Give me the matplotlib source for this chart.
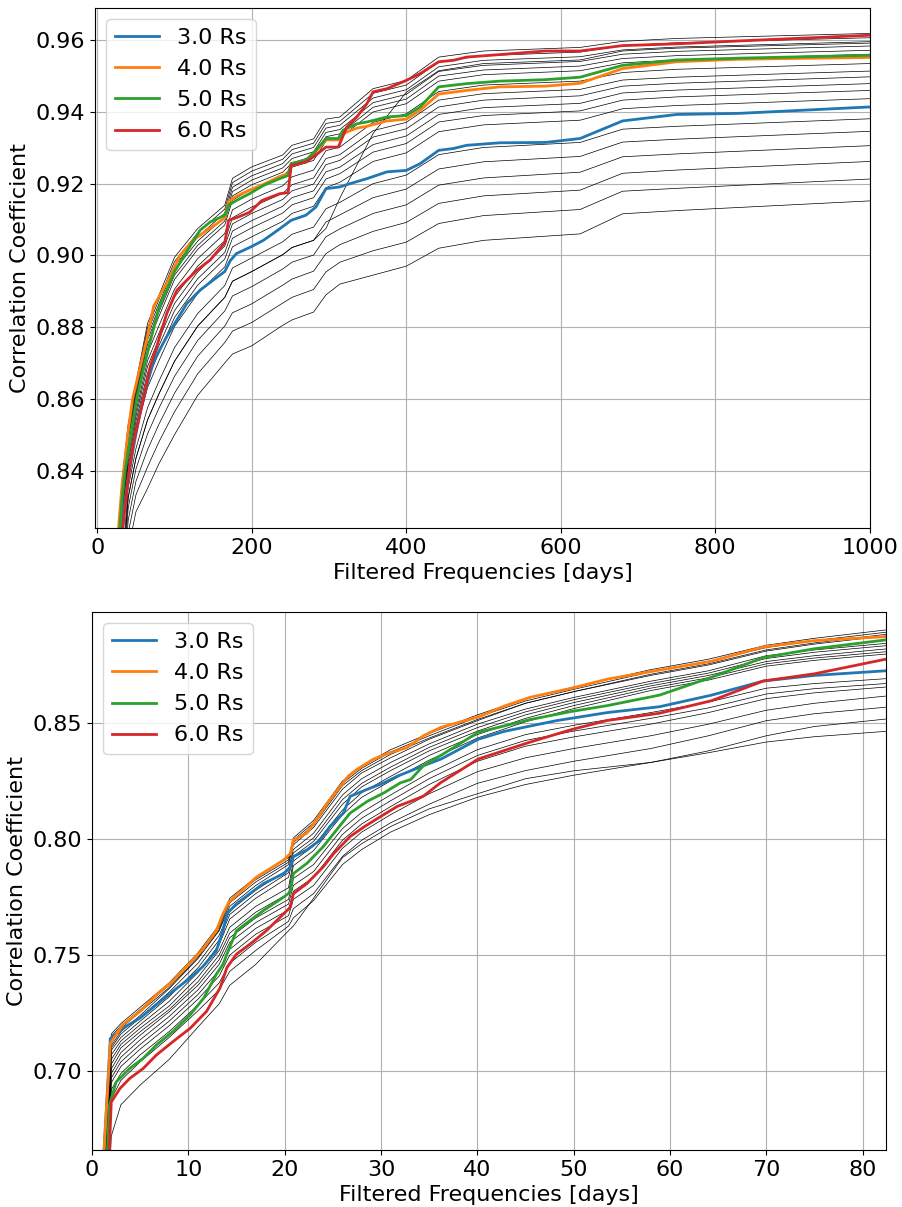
import numpy as np
import matplotlib
matplotlib.use('Agg')
import matplotlib.pyplot as plt

# ---- top panel: long periods ----
top_blue_x = [26, 31, 40, 47, 56, 65, 73, 90, 103, 116, 133, 150, 165, 172, 180, 200, 215, 236,
              251, 270, 283, 296, 314, 327, 349, 375, 400, 418, 442, 461, 478, 521, 580, 625,
              680, 750, 830, 1000]
top_blue = [0.805, 0.824, 0.838, 0.8467, 0.857, 0.8645, 0.8705, 0.8774, 0.882, 0.8866, 0.8903,
            0.8931, 0.8955, 0.8985, 0.9005, 0.9025, 0.9042, 0.9074, 0.9098, 0.9112, 0.9135,
            0.9186, 0.9191, 0.920, 0.9214, 0.9233, 0.9237, 0.9256, 0.9293, 0.9298, 0.9307,
            0.9314, 0.9315, 0.9326, 0.9375, 0.9393, 0.9396, 0.9414]

top_orange_x = [26, 32, 40, 45.7, 55.6, 64, 72.9, 92, 107, 124.6, 141.8, 155, 165, 170, 180, 197,
                215, 236, 247, 251, 270, 283, 296, 312, 318, 336, 349, 375, 400, 418, 442, 478,
                521, 580, 625, 680, 750, 830, 1000]
top_orange = [0.820, 0.836, 0.851, 0.860, 0.869, 0.8765, 0.8858, 0.8931, 0.900, 0.9043, 0.907,
              0.9089, 0.9105, 0.915, 0.9165, 0.9182, 0.9198, 0.922, 0.9228, 0.9256, 0.9265,
              0.929, 0.9322, 0.9322, 0.934, 0.9355, 0.936, 0.9375, 0.938, 0.9405, 0.945,
              0.946, 0.947, 0.9472, 0.948, 0.9521, 0.954, 0.9547, 0.9552]

top_green_x = [26, 32, 36, 51, 60, 68.5, 80, 100, 133, 146, 165, 170, 180, 197, 215, 236, 247,
               251, 270, 283, 296, 312, 318, 336, 349, 375, 400, 418, 442, 478, 521, 580, 625,
               680, 750, 830, 1000]
top_green = [0.815, 0.832, 0.840, 0.860, 0.8685, 0.876, 0.8855, 0.8955, 0.907, 0.9093, 0.9112,
             0.914, 0.9153, 0.9172, 0.9195, 0.9214, 0.9223, 0.9256, 0.9265, 0.9293, 0.9326,
             0.9326, 0.9349, 0.9367, 0.9372, 0.9386, 0.939, 0.9414, 0.947, 0.9479, 0.9486,
             0.949, 0.9497, 0.953, 0.9545, 0.955, 0.9558]

top_red_x = [26, 33, 40, 47, 55.6, 68.5, 77, 90, 103, 116, 129, 146, 165, 170, 180, 197, 213,
             236, 247, 251, 270, 283, 296, 312, 323, 336, 349, 357, 375, 400, 418, 442, 461,
             478, 521, 580, 625, 680, 750, 830, 1000]
top_red = [0.800, 0.824, 0.838, 0.848, 0.856, 0.869, 0.8746, 0.8839, 0.8903, 0.8931, 0.8959,
           0.8987, 0.9035, 0.9098, 0.9105, 0.912, 0.9153, 0.9172, 0.9175, 0.9251, 0.926,
           0.928, 0.9302, 0.9302, 0.9358, 0.9386, 0.9423, 0.9456, 0.9465, 0.9488, 0.9507,
           0.954, 0.9544, 0.9553, 0.956, 0.957, 0.957, 0.9585, 0.959, 0.9598, 0.9614]

top_bx = [26, 32, 40, 50, 65, 80, 100, 130, 165, 175, 200, 240, 252, 280, 296, 314,
          357, 400, 442, 500, 625, 680, 750, 1000]
top_black = [
    [0.820, 0.8374, 0.853, 0.8645, 0.881, 0.889, 0.8995, 0.9075, 0.914, 0.9215, 0.9247, 0.928,
     0.9307, 0.9325, 0.938, 0.9386, 0.9465, 0.9488, 0.9553, 0.957, 0.958, 0.9597, 0.9605, 0.9619],
    [0.819, 0.8362, 0.8521, 0.8636, 0.8798, 0.8878, 0.8983, 0.9063, 0.9129, 0.9203, 0.9235, 0.9268,
     0.9295, 0.9313, 0.9368, 0.9374, 0.9452, 0.9475, 0.954, 0.9557, 0.9567, 0.9585, 0.9593, 0.9607],
    [0.818, 0.835, 0.8512, 0.8627, 0.8787, 0.8866, 0.897, 0.9052, 0.9118, 0.919, 0.9222, 0.9256,
     0.9283, 0.9301, 0.9355, 0.9363, 0.9439, 0.9462, 0.9526, 0.9544, 0.9554, 0.9573, 0.9581, 0.9596],
    [0.817, 0.8338, 0.8504, 0.8618, 0.8775, 0.8855, 0.8958, 0.904, 0.9107, 0.9178, 0.921, 0.9244,
     0.927, 0.9289, 0.9343, 0.9351, 0.9426, 0.9449, 0.9513, 0.953, 0.9541, 0.9561, 0.9569, 0.9584],
    [0.816, 0.8327, 0.8495, 0.8609, 0.8764, 0.8843, 0.8945, 0.9028, 0.9096, 0.9166, 0.9197, 0.9232,
     0.9258, 0.9277, 0.9331, 0.9339, 0.9413, 0.9436, 0.95, 0.9517, 0.9528, 0.9549, 0.9557, 0.9572],
    [0.815, 0.8315, 0.8486, 0.86, 0.8752, 0.8831, 0.8933, 0.9017, 0.9085, 0.9154, 0.9185, 0.9221,
     0.9246, 0.9265, 0.9319, 0.9328, 0.94, 0.9423, 0.9486, 0.9504, 0.9515, 0.9537, 0.9545, 0.9561],
    [0.8128, 0.8289, 0.8467, 0.858, 0.8727, 0.8805, 0.8906, 0.8991, 0.9061, 0.9127, 0.9157, 0.9194,
     0.9219, 0.9238, 0.9292, 0.9302, 0.9371, 0.9395, 0.9457, 0.9475, 0.9486, 0.951, 0.9519, 0.9535],
    [0.811, 0.8267, 0.8451, 0.8564, 0.8706, 0.8784, 0.8884, 0.897, 0.9041, 0.9105, 0.9135, 0.9173,
     0.9197, 0.9216, 0.927, 0.9281, 0.9348, 0.9371, 0.9433, 0.9451, 0.9463, 0.9489, 0.9497, 0.9514],
    [0.8096, 0.8251, 0.8439, 0.8551, 0.869, 0.8768, 0.8866, 0.8954, 0.9026, 0.9088, 0.9117, 0.9156,
     0.918, 0.9199, 0.9253, 0.9265, 0.933, 0.9353, 0.9414, 0.9433, 0.9445, 0.9472, 0.948, 0.9498],
    [0.808, 0.8232, 0.8425, 0.8537, 0.8672, 0.8749, 0.8846, 0.8935, 0.9008, 0.9068, 0.9097, 0.9137,
     0.9161, 0.918, 0.9233, 0.9246, 0.9309, 0.9333, 0.9393, 0.9412, 0.9424, 0.9453, 0.9461, 0.9479],
    [0.8064, 0.8213, 0.8411, 0.8523, 0.8654, 0.873, 0.8827, 0.8917, 0.899, 0.9048, 0.9077, 0.9118,
     0.9141, 0.9161, 0.9213, 0.9228, 0.9288, 0.9312, 0.9372, 0.939, 0.9403, 0.9433, 0.9442, 0.946],
    [0.8044, 0.8189, 0.8394, 0.8505, 0.8631, 0.8707, 0.8802, 0.8894, 0.8968, 0.9024, 0.9052, 0.9095,
     0.9117, 0.9137, 0.9189, 0.9204, 0.9262, 0.9286, 0.9345, 0.9364, 0.9377, 0.9409, 0.9418, 0.9437],
    [0.7996, 0.8132, 0.8352, 0.8461, 0.8575, 0.865, 0.8743, 0.8838, 0.8916, 0.8965, 0.8993, 0.9038,
     0.9059, 0.9079, 0.913, 0.9148, 0.92, 0.9224, 0.9281, 0.9301, 0.9315, 0.9352, 0.936, 0.9381],
    [0.7966, 0.8097, 0.8325, 0.8434, 0.8541, 0.8615, 0.8705, 0.8803, 0.8883, 0.8928, 0.8955, 0.9002,
     0.9022, 0.9042, 0.9093, 0.9113, 0.9161, 0.9185, 0.9241, 0.9261, 0.9276, 0.9316, 0.9324, 0.9346],
    [0.7966, 0.8097, 0.8325, 0.8434, 0.8541, 0.8615, 0.8705, 0.8803, 0.8883, 0.8928, 0.8955, 0.9002,
     0.9022, 0.9042, 0.9075, 0.916, 0.934, 0.9455, 0.9515, 0.9535, 0.9545, 0.957, 0.9578, 0.9592],
    [0.7932, 0.8056, 0.8296, 0.8404, 0.8502, 0.8575, 0.8663, 0.8763, 0.8845, 0.8887, 0.8913, 0.8962,
     0.8981, 0.9001, 0.9052, 0.9074, 0.9117, 0.9141, 0.9196, 0.9216, 0.9232, 0.9275, 0.9283, 0.9306],
    [0.7894, 0.8011, 0.8262, 0.837, 0.8458, 0.853, 0.8616, 0.8719, 0.8803, 0.884, 0.8865, 0.8917,
     0.8934, 0.8956, 0.9005, 0.903, 0.9067, 0.9092, 0.9145, 0.9166, 0.9182, 0.9229, 0.9238, 0.9262],
    [0.7852, 0.7962, 0.8226, 0.8332, 0.841, 0.8481, 0.8564, 0.867, 0.8757, 0.8789, 0.8813, 0.8867,
     0.8883, 0.8905, 0.8954, 0.8981, 0.9013, 0.9037, 0.9089, 0.9111, 0.9128, 0.9179, 0.9187, 0.9213],
    [0.780, 0.790, 0.818, 0.8285, 0.835, 0.842, 0.850, 0.861, 0.870, 0.8725, 0.8748, 0.8805,
     0.882, 0.8842, 0.889, 0.892, 0.8945, 0.897, 0.902, 0.9042, 0.906, 0.9116, 0.9125, 0.9152],
]

# ---- bottom panel: short periods ----
bot_blue_x = [1.1, 1.9, 3.2, 5, 6.7, 8.4, 10.2, 11.5, 12.9, 13.6, 14, 15, 16.4, 17.8, 19.9, 20.6,
              20.9, 22.3, 23.7, 24.7, 26.1, 26.8, 28.5, 30.3, 31.7, 33.1, 34.4, 36.2, 40.1,
              42.8, 48.2, 53.5, 58.9, 64.3, 69.7, 75, 82.4]
bot_blue = [0.655, 0.714, 0.7185, 0.7229, 0.7287, 0.7344, 0.7402, 0.745, 0.7518, 0.7605, 0.7678,
            0.7721, 0.7765, 0.7808, 0.7851, 0.788, 0.7924, 0.7953, 0.7996, 0.8054, 0.8112,
            0.8184, 0.8213, 0.8242, 0.8271, 0.8294, 0.8316, 0.8344, 0.843, 0.8464, 0.851,
            0.8545, 0.857, 0.862, 0.8681, 0.8705, 0.8725]

bot_orange_x = [1.1, 1.9, 3.2, 5, 6.7, 8.4, 10.2, 11.5, 12.9, 13.6, 14.2, 15.4, 17.1, 18.5, 19.9,
                20.6, 20.9, 22.3, 23.3, 24.7, 25.8, 26.6, 27.5, 29.2, 31, 32.7, 34.4, 36.2,
                40.1, 42.8, 45.5, 49.8, 53.5, 58.9, 64.3, 69.7, 75, 82.4]
bot_orange = [0.655, 0.712, 0.720, 0.7258, 0.733, 0.7388, 0.7468, 0.7525, 0.7605, 0.7678,
              0.7728, 0.7772, 0.7837, 0.7873, 0.791, 0.7938, 0.7996, 0.8025, 0.8083, 0.817,
              0.8228, 0.8271, 0.830, 0.8344, 0.8373, 0.8394, 0.8445, 0.8481, 0.8526, 0.8573,
              0.8611, 0.865, 0.8689, 0.8728, 0.8766, 0.8828, 0.8855, 0.8872]

bot_green_x = [1.5, 1.8, 2.5, 3.9, 5.3, 6.7, 8.4, 10.2, 11.6, 12.9, 13.6, 14, 15, 16.4, 17.8,
               19.9, 20.6, 20.9, 22.3, 24, 25.4, 26.8, 28.6, 30.3, 32, 33.1, 34.4, 36.2, 40.1,
               45.5, 49.8, 53.5, 58.9, 64.3, 69.7, 75, 82.4]
bot_green = [0.655, 0.6852, 0.6953, 0.7011, 0.7055, 0.7113, 0.7171, 0.7243, 0.7315, 0.7417,
             0.746, 0.7504, 0.7605, 0.7649, 0.7692, 0.775, 0.7772, 0.7851, 0.7895, 0.7967,
             0.804, 0.8112, 0.8163, 0.8199, 0.8242, 0.8257, 0.8316, 0.836, 0.846, 0.8515,
             0.855, 0.8575, 0.862, 0.8697, 0.8782, 0.882, 0.8858]

bot_red_x = [1.7, 2, 2.9, 3.9, 5.3, 6.7, 8.4, 10.2, 11.9, 13.3, 14, 15, 16.4, 18.1, 19.9, 20.6,
             20.9, 22.3, 24, 25.1, 26.8, 28.3, 30, 31.7, 33.1, 34.4, 36.2, 40.1, 45.5, 49.8,
             53.5, 58.9, 64.3, 69.7, 75, 82.4]
bot_red = [0.655, 0.6867, 0.6925, 0.6968, 0.7011, 0.707, 0.7127, 0.7185, 0.7258, 0.7359, 0.7446,
           0.7504, 0.7547, 0.7605, 0.7678, 0.7707, 0.7764, 0.7808, 0.788, 0.7938, 0.8011,
           0.8054, 0.8098, 0.8141, 0.8163, 0.8185, 0.8243, 0.8345, 0.8418, 0.8472, 0.8511,
           0.8542, 0.8596, 0.8681, 0.8712, 0.8775]

bot_bx = [1.0, 2.0, 3, 5, 8, 11, 13.2, 14.3, 17, 20.4, 20.9, 23, 26, 28, 31, 35, 40, 45,
          50, 58, 64, 70, 75, 82.4]
bot_black = [
    [0.63, 0.716, 0.7205, 0.7275, 0.738, 0.751, 0.763, 0.7745, 0.7835, 0.792, 0.8005, 0.808,
     0.825, 0.8315, 0.8385, 0.8455, 0.8535, 0.8605, 0.8655, 0.873, 0.8775, 0.8835, 0.8865, 0.8901],
    [0.628, 0.715, 0.7195, 0.7265, 0.737, 0.75, 0.762, 0.7735, 0.7825, 0.791, 0.7995, 0.807,
     0.824, 0.8305, 0.8375, 0.8445, 0.8525, 0.8595, 0.8645, 0.872, 0.8765, 0.8825, 0.8855, 0.8891],
    [0.626, 0.714, 0.7185, 0.7255, 0.736, 0.749, 0.761, 0.7725, 0.7815, 0.790, 0.7985, 0.806,
     0.823, 0.8295, 0.8365, 0.8435, 0.8515, 0.8585, 0.8635, 0.871, 0.8755, 0.8815, 0.8845, 0.8882],
    [0.62, 0.711, 0.717, 0.724, 0.7355, 0.7485, 0.7605, 0.771, 0.780, 0.789, 0.7975, 0.805,
     0.8215, 0.8285, 0.835, 0.843, 0.851, 0.8585, 0.8635, 0.8705, 0.875, 0.881, 0.884, 0.8875],
    [0.61, 0.710, 0.716, 0.723, 0.734, 0.7465, 0.7585, 0.769, 0.778, 0.787, 0.7955, 0.8025,
     0.819, 0.826, 0.833, 0.841, 0.8495, 0.856, 0.861, 0.868, 0.8725, 0.879, 0.8815, 0.8843],
    [0.605, 0.709, 0.7145, 0.7215, 0.732, 0.7445, 0.7565, 0.7675, 0.7765, 0.7855, 0.794, 0.8005,
     0.817, 0.824, 0.831, 0.8395, 0.848, 0.8548, 0.86, 0.867, 0.8715, 0.8778, 0.8805, 0.8833],
    [0.60, 0.707, 0.713, 0.72, 0.730, 0.7425, 0.7545, 0.7655, 0.7745, 0.7835, 0.7925, 0.799,
     0.815, 0.8225, 0.8295, 0.838, 0.8465, 0.8535, 0.8588, 0.866, 0.8705, 0.8765, 0.879, 0.8819],
    [0.595, 0.705, 0.7115, 0.7185, 0.728, 0.7405, 0.752, 0.762, 0.771, 0.779, 0.7905, 0.797,
     0.8125, 0.82, 0.827, 0.836, 0.845, 0.852, 0.8575, 0.865, 0.8695, 0.8755, 0.878, 0.8807],
    [0.59, 0.703, 0.71, 0.717, 0.7265, 0.7385, 0.750, 0.7595, 0.7685, 0.7765, 0.7885, 0.795,
     0.8105, 0.818, 0.825, 0.834, 0.8435, 0.8505, 0.8562, 0.864, 0.8685, 0.8745, 0.877, 0.8797],
    [0.585, 0.701, 0.708, 0.7155, 0.7255, 0.737, 0.748, 0.7575, 0.766, 0.774, 0.783, 0.789,
     0.8045, 0.8115, 0.819, 0.8285, 0.8385, 0.845, 0.849, 0.8545, 0.859, 0.865, 0.867, 0.8691],
    [0.58, 0.699, 0.706, 0.7135, 0.7235, 0.735, 0.746, 0.7555, 0.764, 0.772, 0.780, 0.786,
     0.802, 0.809, 0.8165, 0.826, 0.836, 0.8425, 0.8465, 0.852, 0.8565, 0.8625, 0.8648, 0.867],
    [0.575, 0.697, 0.704, 0.7115, 0.7215, 0.733, 0.7435, 0.7525, 0.7615, 0.7695, 0.7775, 0.7835,
     0.7995, 0.8065, 0.814, 0.8235, 0.8335, 0.84, 0.844, 0.8495, 0.8545, 0.8605, 0.863, 0.8655],
    [0.57, 0.695, 0.702, 0.7095, 0.7195, 0.731, 0.741, 0.750, 0.759, 0.767, 0.774, 0.780,
     0.796, 0.803, 0.8105, 0.8195, 0.829, 0.835, 0.839, 0.8445, 0.8495, 0.8555, 0.8585, 0.8616],
    [0.565, 0.692, 0.699, 0.707, 0.717, 0.7285, 0.738, 0.7465, 0.7555, 0.7645, 0.770, 0.7765,
     0.7925, 0.7995, 0.807, 0.815, 0.824, 0.8295, 0.8335, 0.839, 0.8445, 0.851, 0.854, 0.8568],
    [0.56, 0.688, 0.696, 0.704, 0.7145, 0.726, 0.735, 0.743, 0.752, 0.7625, 0.766, 0.7735,
     0.789, 0.7955, 0.803, 0.8105, 0.818, 0.8235, 0.8275, 0.833, 0.838, 0.8445, 0.8485, 0.8517],
    [0.56, 0.672, 0.6855, 0.694, 0.705, 0.719, 0.729, 0.737, 0.746, 0.7605, 0.7625, 0.7745,
     0.792, 0.798, 0.8054, 0.813, 0.8195, 0.826, 0.8294, 0.833, 0.8372, 0.8418, 0.8441, 0.8464],
]

labels = ['3.0 Rs', '4.0 Rs', '5.0 Rs', '6.0 Rs']
colors = ['tab:blue', 'tab:orange', 'tab:green', 'tab:red']

plt.rcParams['font.size'] = 16

fig = plt.figure(figsize=(9.02, 12.07), dpi=100)
ax1 = fig.add_axes([0.1053, 0.5626, 0.859, 0.4308])
ax2 = fig.add_axes([0.102, 0.0472, 0.880, 0.4457])

for line in top_black:
    ax1.plot(top_bx, line, color='k', lw=0.5)
top_series = [(top_blue_x, top_blue), (top_orange_x, top_orange),
              (top_green_x, top_green), (top_red_x, top_red)]
for (x, y), lab, c in zip(top_series, labels, colors):
    ax1.plot(x, y, color=c, lw=2, label=lab)

for line in bot_black:
    ax2.plot(bot_bx, line, color='k', lw=0.5)
bot_series = [(bot_blue_x, bot_blue), (bot_orange_x, bot_orange),
              (bot_green_x, bot_green), (bot_red_x, bot_red)]
for (x, y), lab, c in zip(bot_series, labels, colors):
    ax2.plot(x, y, color=c, lw=2, label=lab)

ax1.set_xlim(-3, 1000)
ax1.set_ylim(0.824, 0.969)
ax1.set_yticks([0.84, 0.86, 0.88, 0.90, 0.92, 0.94, 0.96])
ax2.set_xlim(0, 82.4)
ax2.set_ylim(0.666, 0.8978)
ax2.set_yticks([0.70, 0.75, 0.80, 0.85])

for ax in (ax1, ax2):
    ax.grid(True)
    ax.set_xlabel('Filtered Frequencies [days]')
    ax.set_ylabel('Correlation Coefficient')
    ax.legend(loc='upper left')

fig.savefig('out.png', dpi=100)
